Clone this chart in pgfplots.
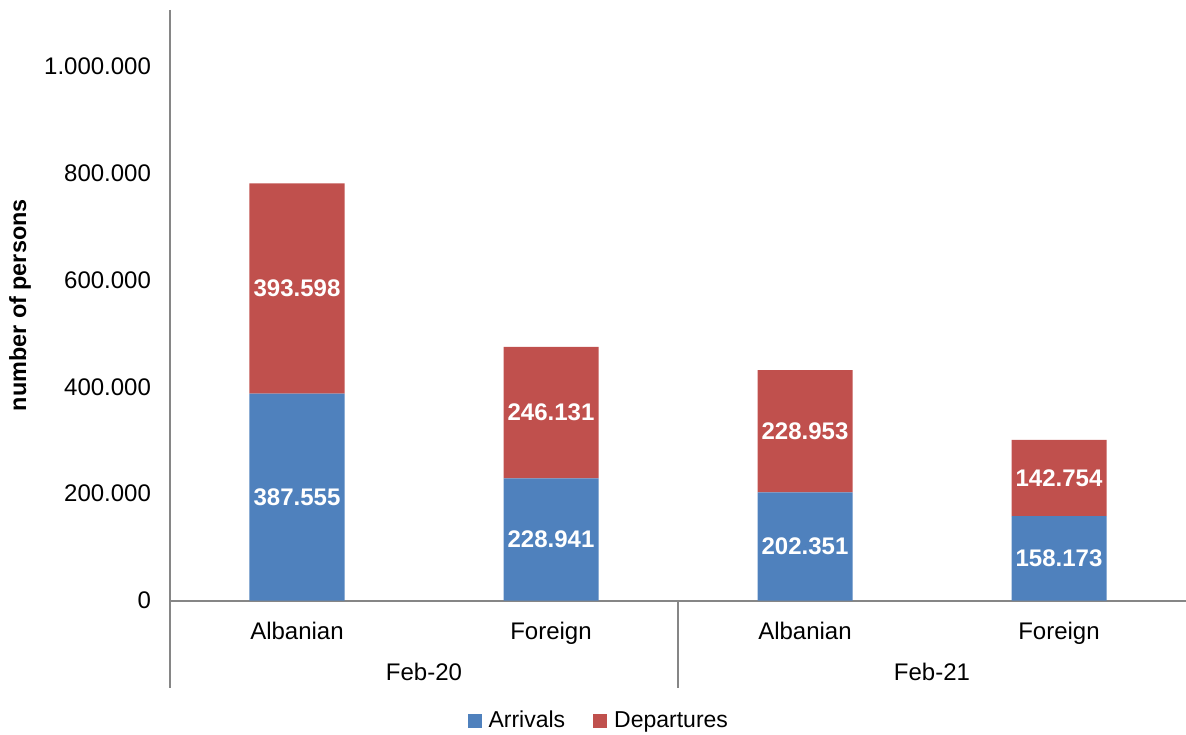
\documentclass[border=0pt]{standalone}
\usepackage{pgfplots}
\pgfplotsset{compat=1.18}
\usepackage{fontspec}
\setmainfont{Liberation Sans}
\definecolor{arrblue}{HTML}{4F81BD}
\definecolor{depred}{HTML}{C0504D}
\definecolor{axgray}{HTML}{868686}

\pgfplotsset{common/.style={
  width=508pt, height=295.25pt, scale only axis,
  xmin=-0.5, xmax=3.5, ymin=0, ymax=1106000,
  at={(0,0)}, anchor=south west, clip=false}}

\begin{document}
\begin{tikzpicture}
\begin{axis}[common,
  ybar stacked, bar width=47.5pt,
  axis line style={draw=none},
  major tick length=0pt,
  xtick={0,1,2,3},
  xticklabels={Albanian,Foreign,Albanian,Foreign},
  ytick={0,200000,400000,600000,800000,1000000},
  scaled y ticks=false,
  /pgf/number format/.cd, fixed, 1000 sep={.}, assume math mode=true,
  /pgfplots/.cd,
  tick label style={font=\fontsize{12}{14}\selectfont, text=black},
  yticklabel style={xshift=-6pt},
  xticklabel style={yshift=-7.5pt},
  ylabel={number of persons},
  every axis y label/.style={at={(rel axis cs:0,0.5)}, xshift=-75pt, rotate=90, anchor=center, font=\bfseries\fontsize{11.7}{14}\selectfont},
  legend style={at={(0.423,-0.204)}, anchor=center, legend columns=2, draw=none, fill=none,
    font=\fontsize{11.5}{14}\selectfont,
    /tikz/every even column/.append style={column sep=12pt}},
  legend image code/.code={\fill[#1, draw=none] (0pt,-3.5pt) rectangle (7pt,3.5pt);},
]
\addplot[fill=arrblue, draw=none] coordinates {(0,387555) (1,228941) (2,202351) (3,158173)};
\addplot[fill=depred, draw=none] coordinates {(0,393598) (1,246131) (2,228953) (3,142754)};
\legend{\hspace{1.5pt}Arrivals, \hspace{1.5pt}Departures}
\draw[axgray, line width=1pt] (axis cs:-0.5,1106000) -- (axis cs:-0.5,0) -- (axis cs:3.5,0);
\draw[axgray, line width=1pt] (axis cs:-0.5,0) -- ([yshift=-43.75pt]axis cs:-0.5,0);
\draw[axgray, line width=1pt] (axis cs:1.5,0) -- ([yshift=-43.75pt]axis cs:1.5,0);
\node[font=\fontsize{12}{14}\selectfont] at ([yshift=-35.75pt]axis cs:0.5,0) {Feb-20};
\node[font=\fontsize{12}{14}\selectfont] at ([yshift=-35.75pt]axis cs:2.5,0) {Feb-21};
\end{axis}
\begin{axis}[common, hide axis,
  nodes near coords, point meta=explicit symbolic,
  nodes near coords style={anchor=center, font=\bfseries\fontsize{12}{14}\selectfont, text=white}]
\addplot[only marks, mark=*, mark size=0pt, draw=none, fill=none] table[meta=lab] {
x y lab
0 193777 387.555
1 114470 228.941
2 101175 202.351
3 79086 158.173
0 584354 393.598
1 352006 246.131
2 316827 228.953
3 229550 142.754
};
\end{axis}
\pgfresetboundingbox
\useasboundingbox (-85pt,-66.75pt) rectangle (508pt,300.25pt);
\end{tikzpicture}
\end{document}
